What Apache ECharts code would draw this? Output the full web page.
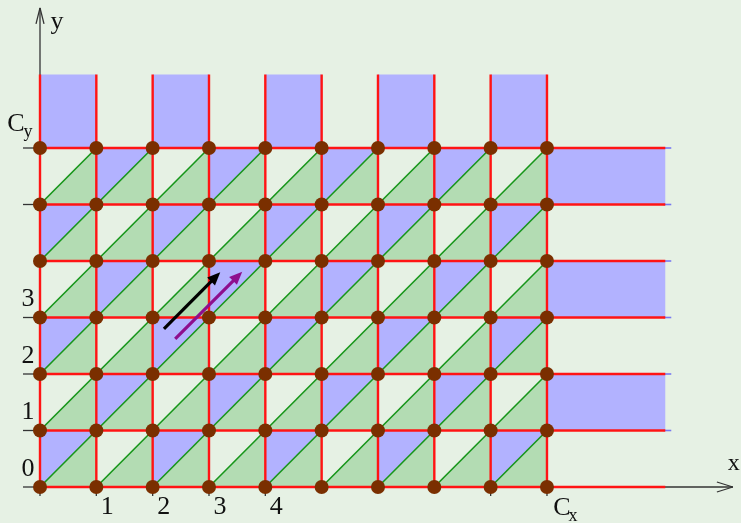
<!DOCTYPE html>
<html>
<head>
<meta charset="UTF-8">
<title>Lattice cells</title>
<script src="https://cdn.jsdelivr.net/npm/echarts@6.0.0/dist/echarts.min.js"></script>
<style>
    * { margin: 0; padding: 0; box-sizing: border-box; }
    body { background: #e6f1e4; }
    #chart { width: 741px; height: 523px; }
</style>
</head>
<body>
<div id="chart"></div>
<script>
// lattice lines
const xLines = [0, 1, 2, 3, 4, 5, 6, 7, 8, 9];
const yLines = [0, 1, 2, 3, 4, 5, 6];
const Cx = 9, Cy = 6;
const topEnd = 7.3;      // ghost strip above Cy ends here
const rightEnd = 11.1;   // ghost strip right of Cx ends here
// upper-left triangle of every cell, row 0 first: B = blue, w = empty
const cellRows = [
    'BwBwBwBwB',
    'wBwBwBwBw',
    'BwBwBwBwB',
    'wBwBwBwBw',
    'BwBwBwBwB',
    'wBwBwBwBw'
];
const topBlueCols = [0, 2, 4, 6, 8];
const rightBlueRows = [1, 3, 5];
// ticks and labels
const xTicks = [0, 1, 2, 3, 4, 8, 9];
const xLabelVals = [1, 2, 3, 4];
const yTicks = [0, 1, 2, 3, 5, 6];
const yLabelVals = [0, 1, 2, 3];
// the two vectors
const arrowFrom = [[2.2, 2.8], [2.4, 2.62]];
const arrowTo = [[3.2, 3.8], [3.59, 3.81]];
const arrowColors = ['#000000', '#8e0e8e'];

const GREEN_FILL = '#b3dcb3';
const BLUE_FILL = '#b2b2ff';
const GREEN_LINE = '#17961a';
const RED = '#ff1414';
const DOT = '#7a2f00';
const AXIS = '#333333';
const FONT = '"Liberation Serif", "DejaVu Serif", serif';

const chart = echarts.init(document.getElementById('chart'));

const cells = [];
cellRows.forEach(function (row, j) {
    row.split('').forEach(function (c, i) {
        cells.push([i, j, c === 'B' ? 1 : 0]);
    });
});

const strips = topBlueCols.map(i => [i, Cy, i + 1, topEnd])
    .concat(rightBlueRows.map(j => [Cx, j, rightEnd, j + 1]));

const redLines = xLines.map(x => [x, 0, x, topEnd])
    .concat(yLines.map(y => [0, y, rightEnd, y]));

const dots = [];
xLines.forEach(x => yLines.forEach(y => dots.push([x, y])));

const arrows = arrowFrom.map((f, k) => [f[0], f[1], arrowTo[k][0], arrowTo[k][1], k]);

function txt(x, y, text, size, align, vAlign) {
    return {
        type: 'text', x: x, y: y,
        style: { text: text, fontSize: size, fontFamily: FONT, fill: '#111',
                 align: align || 'center', verticalAlign: vAlign || 'middle' }
    };
}

function renderAxes(params, api) {
    const o = api.coord([0, 0]);
    const yTop = api.coord([0, 8.48]);
    const xEnd = api.coord([12.3, 0]);
    const ch = [];
    const ln = (x1, y1, x2, y2) => ({ type: 'line', shape: { x1, y1, x2, y2 },
        style: { stroke: AXIS, lineWidth: 1.3 } });
    ch.push(ln(o[0], o[1], yTop[0], yTop[1]));
    ch.push(ln(yTop[0], yTop[1], yTop[0] - 4, yTop[1] + 16));
    ch.push(ln(yTop[0], yTop[1], yTop[0] + 4, yTop[1] + 16));
    ch.push(ln(o[0], o[1], xEnd[0], xEnd[1]));
    ch.push(ln(xEnd[0], xEnd[1], xEnd[0] - 16, xEnd[1] - 5));
    ch.push(ln(xEnd[0], xEnd[1], xEnd[0] - 16, xEnd[1] + 5));
    xTicks.forEach(v => {
        const p = api.coord([v, 0]);
        ch.push(ln(p[0], p[1], p[0], p[1] + 9));
    });
    yTicks.forEach(v => {
        const p = api.coord([0, v]);
        ch.push(ln(p[0] - 17, p[1], p[0], p[1]));
    });
    xLabelVals.forEach(v => {
        const p = api.coord([v, 0]);
        ch.push(txt(p[0] + 11, p[1] + 20, String(v), 26));
    });
    yLabelVals.forEach(v => {
        const p = api.coord([0, v]);
        ch.push(txt(p[0] - 12, p[1] - 18, String(v), 26));
    });
    const cx = api.coord([Cx, 0]);
    ch.push(txt(cx[0] + 15, cx[1] + 21, 'C', 26));
    ch.push(txt(cx[0] + 26, cx[1] + 29, 'x', 18));
    const cy = api.coord([0, Cy]);
    ch.push(txt(cy[0] - 24, cy[1] - 24, 'C', 26));
    ch.push(txt(cy[0] - 12, cy[1] - 16, 'y', 18));
    ch.push(txt(yTop[0] + 17, yTop[1] + 14, 'y', 26));
    ch.push(txt(xEnd[0] + 1, xEnd[1] - 23, 'x', 24));
    return { type: 'group', children: ch };
}

const option = {
    backgroundColor: '#e6f1e4',
    animation: false,
    grid: { left: 40, top: 6.75, width: 698.5, height: 480.25 },
    xAxis: { type: 'value', min: 0, max: 12.4, show: false },
    yAxis: { type: 'value', min: 0, max: 8.5, show: false },
    series: [
        {
            type: 'custom', silent: true, z: 1, data: cells,
            renderItem: function (params, api) {
                const i = api.value(0), j = api.value(1);
                const a = api.coord([i, j]), b = api.coord([i + 1, j]);
                const c = api.coord([i + 1, j + 1]), d = api.coord([i, j + 1]);
                const ch = [{ type: 'polygon', shape: { points: [a, b, c] },
                    style: { fill: GREEN_FILL, stroke: GREEN_FILL, lineWidth: 0.5 } }];
                if (api.value(2)) {
                    ch.push({ type: 'polygon', shape: { points: [a, d, c] },
                        style: { fill: BLUE_FILL, stroke: BLUE_FILL, lineWidth: 0.5 } });
                }
                ch.push({ type: 'line', shape: { x1: a[0], y1: a[1], x2: c[0], y2: c[1] },
                    style: { stroke: GREEN_LINE, lineWidth: 1.6 } });
                return { type: 'group', children: ch };
            }
        },
        {
            type: 'custom', silent: true, z: 1, data: strips,
            renderItem: function (params, api) {
                const p1 = api.coord([api.value(0), api.value(1)]);
                const p2 = api.coord([api.value(2), api.value(3)]);
                const ch = [{ type: 'rect',
                    shape: { x: p1[0], y: p2[1], width: p2[0] - p1[0], height: p1[1] - p2[1] },
                    style: { fill: BLUE_FILL } }];
                if (api.value(2) === rightEnd) {
                    [p1[1], p2[1]].forEach(y => ch.push({ type: 'line',
                        shape: { x1: p2[0] - 2, y1: y, x2: p2[0] + 6, y2: y },
                        style: { stroke: '#7878f0', lineWidth: 1.6 } }));
                }
                return { type: 'group', children: ch };
            }
        },
        {
            type: 'custom', silent: true, z: 2, data: [[0, 0]],
            renderItem: renderAxes
        },
        {
            type: 'custom', silent: true, z: 3, data: redLines,
            renderItem: function (params, api) {
                const p1 = api.coord([api.value(0), api.value(1)]);
                const p2 = api.coord([api.value(2), api.value(3)]);
                return { type: 'line', shape: { x1: p1[0], y1: p1[1], x2: p2[0], y2: p2[1] },
                    style: { stroke: RED, lineWidth: 2.4 } };
            }
        },
        {
            type: 'scatter', silent: true, z: 4, data: dots,
            symbol: 'circle', symbolSize: 14,
            itemStyle: { color: DOT, opacity: 1 }
        },
        {
            type: 'custom', silent: true, z: 5, data: arrows,
            renderItem: function (params, api) {
                const p1 = api.coord([api.value(0), api.value(1)]);
                const p2 = api.coord([api.value(2), api.value(3)]);
                const color = arrowColors[api.value(4)];
                const dx = p2[0] - p1[0], dy = p2[1] - p1[1];
                const len = Math.sqrt(dx * dx + dy * dy);
                const ux = dx / len, uy = dy / len;
                const hl = 13, hw = 5.5;
                const bx = p2[0] - ux * hl, by = p2[1] - uy * hl;
                return { type: 'group', children: [
                    { type: 'line', shape: { x1: p1[0], y1: p1[1], x2: bx + ux * 2, y2: by + uy * 2 },
                      style: { stroke: color, lineWidth: 3.2 } },
                    { type: 'polygon', shape: { points: [
                        [p2[0], p2[1]],
                        [bx - uy * hw, by + ux * hw],
                        [bx + uy * hw, by - ux * hw]] },
                      style: { fill: color } }
                ] };
            }
        }
    ]
};

chart.setOption(option);
</script>
</body>
</html>
